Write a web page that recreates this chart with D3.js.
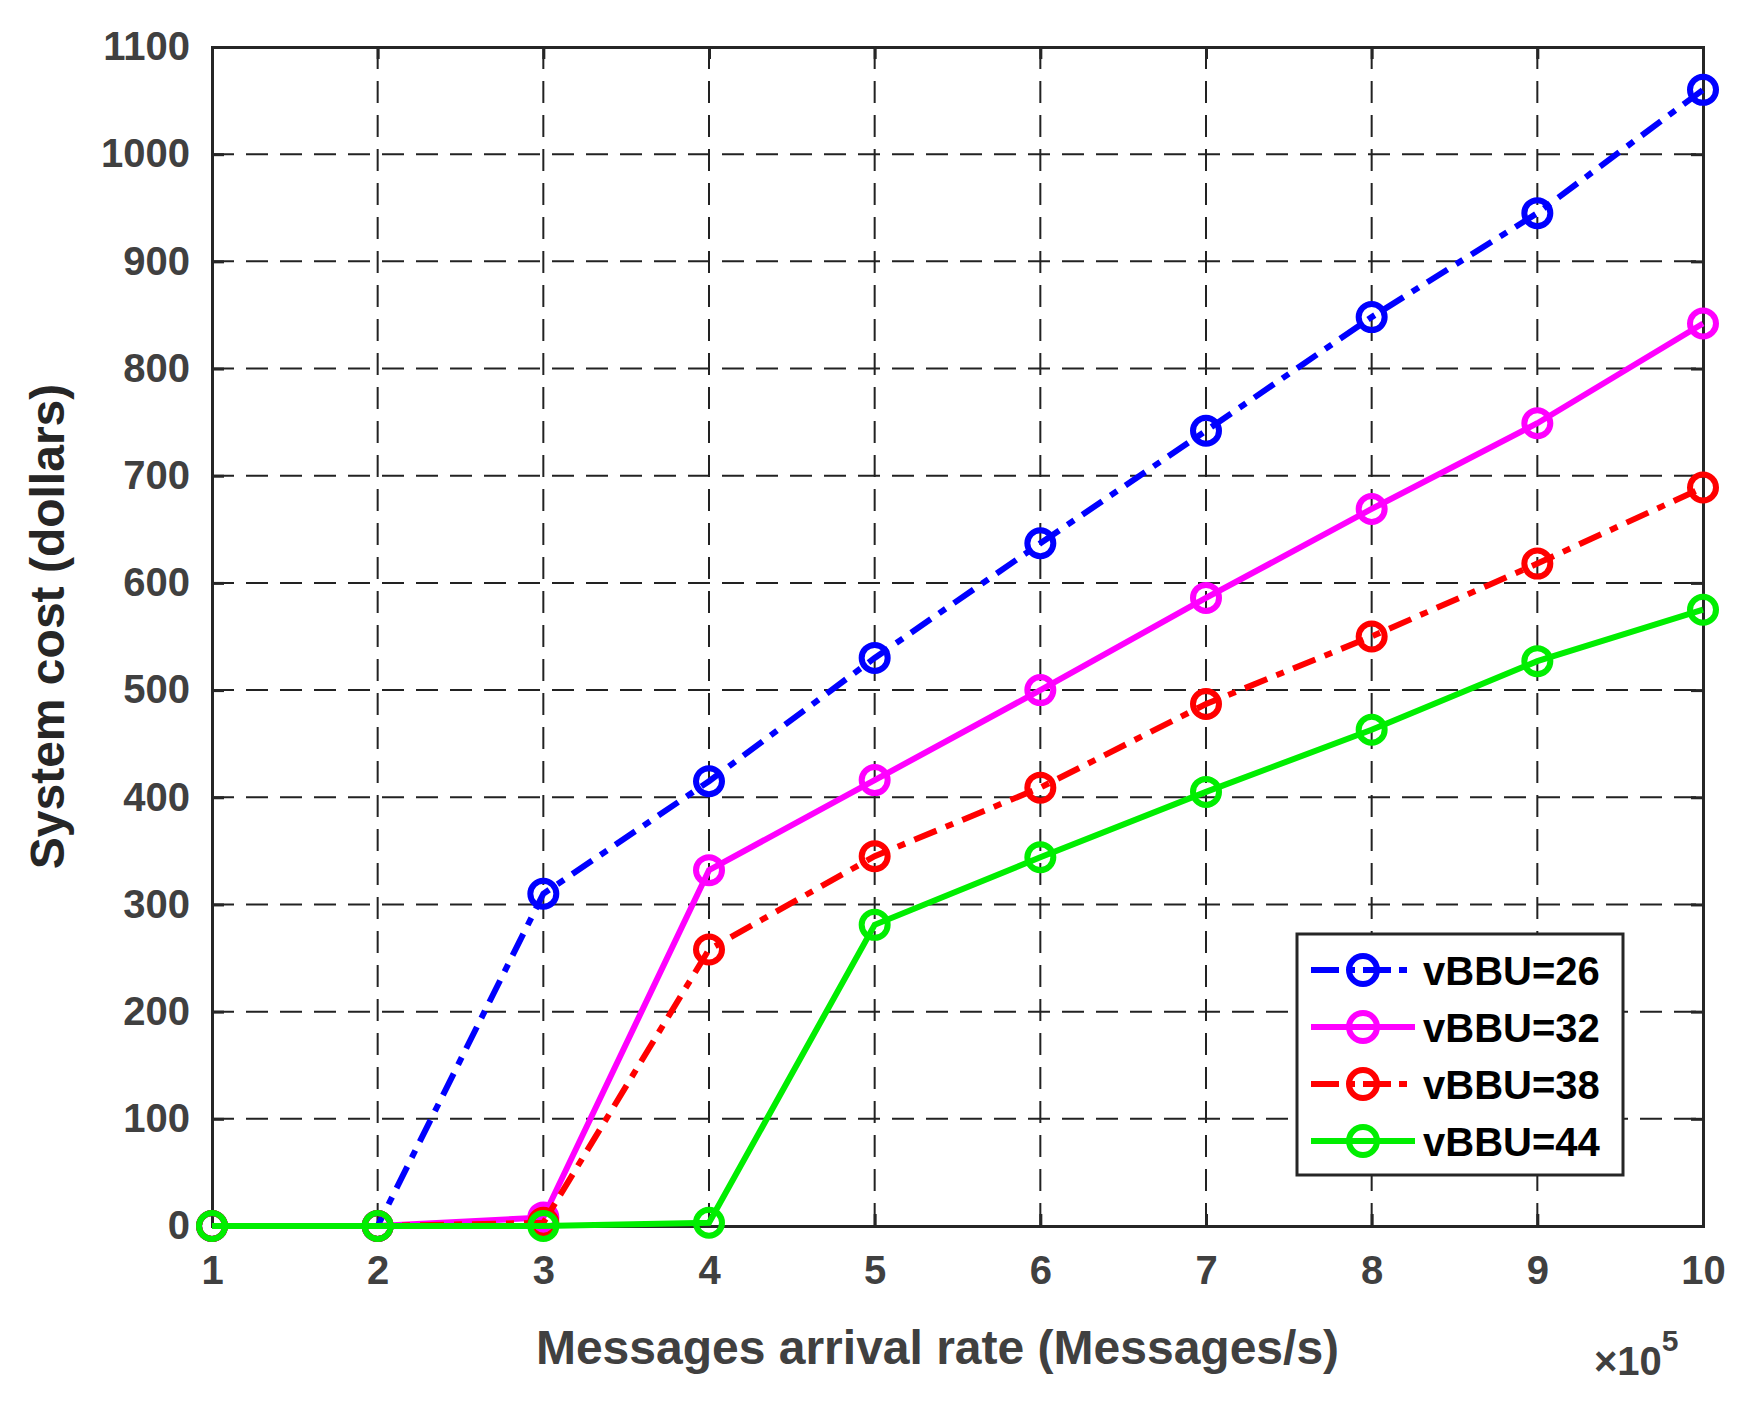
<!DOCTYPE html>
<html><head><meta charset="utf-8">
<script src="https://cdn.jsdelivr.net/npm/d3@7"></script>
<style>body{margin:0;background:#fff}text{font-family:Arial,"Liberation Sans",sans-serif;font-weight:bold}</style>
</head><body><div id="chart"></div>
<script>
const width = 1751, height = 1405
const margin = {top: 47, right: 48, bottom: 179, left: 212}

const xValues = [1, 2, 3, 4, 5, 6, 7, 8, 9, 10]
const yTicks = [0, 100, 200, 300, 400, 500, 600, 700, 800, 900, 1000, 1100]
const seriesNames = ["vBBU=26", "vBBU=32", "vBBU=38", "vBBU=44"]
const vbbu26 = [0, 0, 310, 415, 530, 637, 742, 848, 945, 1060]
const vbbu32 = [0, 0, 8, 332, 416, 500, 586, 669, 749, 842]
const vbbu38 = [0, 0, 3, 258, 345, 409, 487, 550, 618, 689]
const vbbu44 = [0, 0, 0, 3, 281, 344, 405, 463, 527, 575]
const colors = ["#0000ff", "#ff00ff", "#ff0000", "#00ee00"]
const dashes = ["24,10,8,10", null, "24,10,8,10", null]
const allSeries = [vbbu26, vbbu32, vbbu38, vbbu44]

const svg = d3.select("#chart").append("svg").attr("width", width).attr("height", height)
const w = width - margin.left - margin.right, h = height - margin.top - margin.bottom
const g = svg.append("g").attr("transform", `translate(${margin.left},${margin.top})`)

const x = d3.scaleLinear().domain([1, 10]).range([0, w])
const y = d3.scaleLinear().domain([0, 1100]).range([h, 0])

// grid
g.selectAll(".vg").data(xValues.slice(1, -1)).enter().append("line")
  .attr("x1", d => x(d)).attr("x2", d => x(d)).attr("y1", 0).attr("y2", h)
  .attr("stroke", "#222").attr("stroke-width", 2).attr("stroke-dasharray", "22,12")
g.selectAll(".hg").data(yTicks.slice(1, -1)).enter().append("line")
  .attr("y1", d => y(d)).attr("y2", d => y(d)).attr("x1", 0).attr("x2", w)
  .attr("stroke", "#222").attr("stroke-width", 2).attr("stroke-dasharray", "22,12")

const xAxis = g.append("g").attr("transform", `translate(0,${h})`)
  .call(d3.axisBottom(x).tickValues(xValues).tickSize(-12).tickPadding(30).tickFormat(d3.format("d")))
const xTop = g.append("g").call(d3.axisTop(x).tickValues(xValues).tickSize(-12).tickFormat(""))
const yAxis = g.append("g").call(d3.axisLeft(y).tickValues(yTicks).tickSize(-12).tickPadding(22).tickFormat(d3.format("d")))
const yRight = g.append("g").attr("transform", `translate(${w},0)`).call(d3.axisRight(y).tickValues(yTicks).tickSize(-12).tickFormat(""))
;[xAxis, xTop, yAxis, yRight].forEach(a => {
  a.selectAll("path,line").attr("stroke", "#262626").attr("stroke-width", 3)
  a.selectAll("text").attr("fill", "#404040").style("font-size", "40px")
})

// lines
const line = d3.line().x((d, i) => x(xValues[i])).y(d => y(d))
allSeries.forEach((s, k) => {
  g.append("path").datum(s).attr("d", line).attr("fill", "none")
    .attr("stroke", colors[k]).attr("stroke-width", 6).attr("stroke-dasharray", dashes[k])
  g.selectAll(".m" + k).data(s).enter().append("circle")
    .attr("cx", (d, i) => x(xValues[i])).attr("cy", d => y(d)).attr("r", 13)
    .attr("fill", "none").attr("stroke", colors[k]).attr("stroke-width", 6)
})

// labels
svg.append("text").attr("x", margin.left + w / 2 - 20).attr("y", 1364).attr("text-anchor", "middle")
  .attr("fill", "#404040").style("font-size", "48px").text("Messages arrival rate (Messages/s)")
svg.append("text").attr("transform", `translate(64,${margin.top + h / 2 - 10}) rotate(-90)`).attr("text-anchor", "middle")
  .attr("fill", "#262626").style("font-size", "48px").text("System cost (dollars)")
const exp = svg.append("text").attr("x", 1594).attr("y", 1375).attr("fill", "#404040").style("font-size", "40px")
exp.append("tspan").text("×10")
exp.append("tspan").attr("dy", -24).style("font-size", "30px").text("5")

// legend
const lg = svg.append("g").attr("transform", "translate(1297,934)")
lg.append("rect").attr("width", 326).attr("height", 241).attr("fill", "#fff").attr("stroke", "#262626").attr("stroke-width", 3)
seriesNames.forEach((n, k) => {
  const yy = 36 + k * 57
  lg.append("line").attr("x1", 14).attr("x2", 118).attr("y1", yy).attr("y2", yy)
    .attr("stroke", colors[k]).attr("stroke-width", 6).attr("stroke-dasharray", dashes[k] ? "28,8,8,8" : null)
  lg.append("circle").attr("cx", 66).attr("cy", yy).attr("r", 14).attr("fill", "none")
    .attr("stroke", colors[k]).attr("stroke-width", 6)
  lg.append("text").attr("x", 126).attr("y", yy + 15).style("font-size", "40px").attr("fill", "#000").text(n)
})
</script></body></html>
